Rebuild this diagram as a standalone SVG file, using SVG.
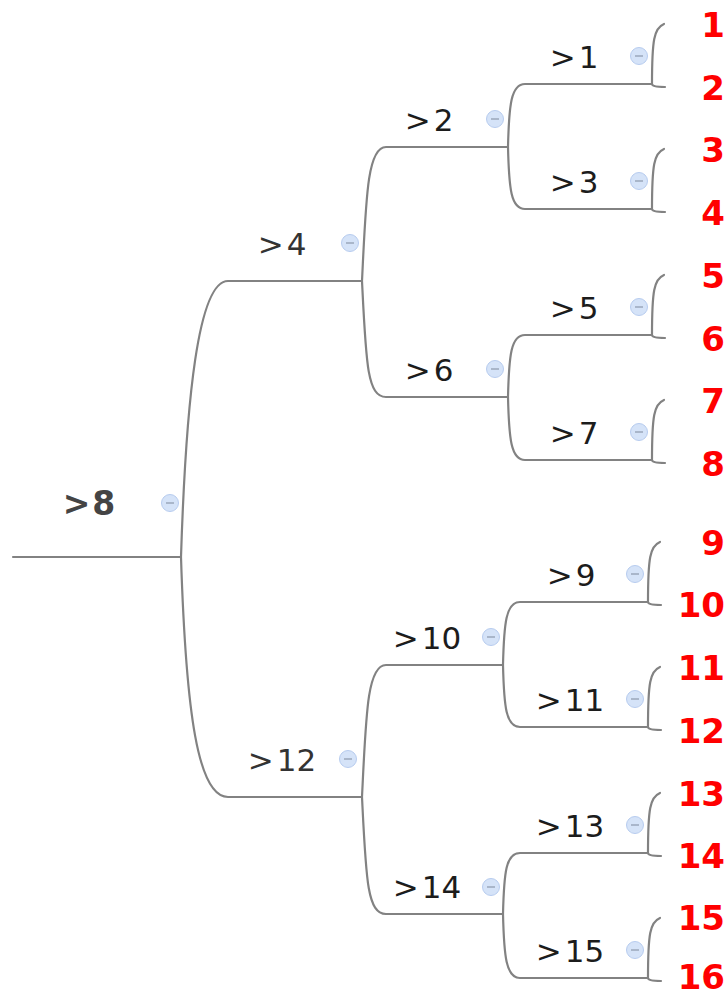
<svg xmlns="http://www.w3.org/2000/svg" width="728" height="994" viewBox="0 0 728 994">
  <style>
    .edge { fill: none; stroke: #828282; stroke-width: 2.2; stroke-linecap: round; }
    .lbl { font-family: "DejaVu Sans", Verdana, sans-serif; font-size: 31px; fill: #1c1c1c; text-anchor: middle; }
    .l1 { fill: #333333; }
    .root { font-family: "DejaVu Sans", Verdana, sans-serif; font-size: 33px; font-weight: bold; fill: #444444; text-anchor: middle; }
    .leaf { font-family: "DejaVu Sans", Verdana, sans-serif; font-size: 34px; font-weight: bold; fill: #ff0000; text-anchor: end; }
    .btn circle { fill: #d5e3f8; stroke: #b7ccef; stroke-width: 1; }
    .btn line { stroke: #9eabbf; stroke-width: 1.6; }
  </style>
  <defs>
    <g id="minus" class="btn">
      <circle cx="0" cy="0" r="8.5"/>
      <line x1="-4" y1="0" x2="4" y2="0"/>
    </g>
  </defs>
  <rect width="728" height="994" fill="#ffffff"/>

  <!-- connectors -->
  <g id="connectors">
    <!-- root -->
    <path class="edge" d="M13,557 H181"/>
    <path class="edge" d="M181,557 C186,400 198,281 228,281 H362"/>
    <path class="edge" d="M181,557 C186,714 198,797 228,797 H362"/>
    <!-- >4 -->
    <path class="edge" d="M362,281 C366,200 367,147 386,147 H508"/>
    <path class="edge" d="M362,281 C366,362 367,397 386,397 H508"/>
    <!-- >12 -->
    <path class="edge" d="M362,797 C366,716 367,665 386,665 H503"/>
    <path class="edge" d="M362,797 C366,878 367,914 386,914 H503"/>
    <!-- >2 -->
    <path class="edge" d="M508,147 C509,105 511,84 525,84 H652"/>
    <path class="edge" d="M508,147 C509,189 511,209 525,209 H652"/>
    <!-- >6 -->
    <path class="edge" d="M508,397 C509,355 511,335 525,335 H652"/>
    <path class="edge" d="M508,397 C509,439 511,460 525,460 H652"/>
    <!-- >10 -->
    <path class="edge" d="M503,665 C504,623 506,602 520,602 H648"/>
    <path class="edge" d="M503,665 C504,707 506,727 520,727 H648"/>
    <!-- >14 -->
    <path class="edge" d="M503,914 C504,872 506,853 520,853 H648"/>
    <path class="edge" d="M503,914 C504,956 506,978 520,978 H648"/>
    <!-- leaf brackets -->
    <path class="edge" d="M652,84 C652,40 654,28 664,24 M652,84 C652,86 656,87 665,87"/>
    <path class="edge" d="M652,209 C652,165 654,153 664,149 M652,209 C652,211 656,212 665,212"/>
    <path class="edge" d="M652,335 C652,291 654,279 664,275 M652,335 C652,337 656,338 665,338"/>
    <path class="edge" d="M652,460 C652,416 654,404 664,400 M652,460 C652,462 656,463 665,463"/>
    <path class="edge" d="M648,602 C648,558 650,546 660,542 M648,602 C648,604 652,605 661,605"/>
    <path class="edge" d="M648,727 C648,683 650,671 660,667 M648,727 C648,729 652,730 661,730"/>
    <path class="edge" d="M648,853 C648,809 650,797 660,793 M648,853 C648,855 652,856 661,856"/>
    <path class="edge" d="M648,978 C648,934 650,922 660,918 M648,978 C648,980 652,981 661,981"/>
  </g>

  <!-- nodes -->
  <g id="n8"><text class="root" x="89" y="515">&gt;<tspan dx="2">8</tspan></text><use href="#minus" x="170" y="503"/></g>
  <g id="n4"><text class="lbl l1" x="282" y="255">&gt;<tspan dx="3">4</tspan></text><use href="#minus" x="350" y="243"/></g>
  <g id="n12"><text class="lbl l1" x="282" y="771">&gt;<tspan dx="3">12</tspan></text><use href="#minus" x="348" y="759"/></g>
  <g id="n2"><text class="lbl" x="429" y="131">&gt;<tspan dx="3">2</tspan></text><use href="#minus" x="495" y="119"/></g>
  <g id="n6"><text class="lbl" x="429" y="381">&gt;<tspan dx="3">6</tspan></text><use href="#minus" x="495" y="369"/></g>
  <g id="n10"><text class="lbl" x="427" y="649">&gt;<tspan dx="3">10</tspan></text><use href="#minus" x="491" y="637"/></g>
  <g id="n14"><text class="lbl" x="427" y="898">&gt;<tspan dx="3">14</tspan></text><use href="#minus" x="491" y="887"/></g>
  <g id="n1"><text class="lbl" x="574" y="68">&gt;<tspan dx="3">1</tspan></text><use href="#minus" x="639" y="56"/></g>
  <g id="n3"><text class="lbl" x="574" y="193">&gt;<tspan dx="3">3</tspan></text><use href="#minus" x="639" y="181"/></g>
  <g id="n5"><text class="lbl" x="574" y="319">&gt;<tspan dx="3">5</tspan></text><use href="#minus" x="639" y="307"/></g>
  <g id="n7"><text class="lbl" x="574" y="444">&gt;<tspan dx="3">7</tspan></text><use href="#minus" x="639" y="432"/></g>
  <g id="n9"><text class="lbl" x="571" y="586">&gt;<tspan dx="3">9</tspan></text><use href="#minus" x="635" y="574"/></g>
  <g id="n11"><text class="lbl" x="570" y="711">&gt;<tspan dx="3">11</tspan></text><use href="#minus" x="635" y="699"/></g>
  <g id="n13"><text class="lbl" x="570" y="837">&gt;<tspan dx="3">13</tspan></text><use href="#minus" x="635" y="825"/></g>
  <g id="n15"><text class="lbl" x="570" y="962">&gt;<tspan dx="3">15</tspan></text><use href="#minus" x="635" y="950"/></g>

  <!-- leaves -->
  <g id="leaves">
    <text class="leaf" x="725" y="37">1</text>
    <text class="leaf" x="725" y="100">2</text>
    <text class="leaf" x="725" y="162">3</text>
    <text class="leaf" x="725" y="225">4</text>
    <text class="leaf" x="725" y="288">5</text>
    <text class="leaf" x="725" y="351">6</text>
    <text class="leaf" x="725" y="413">7</text>
    <text class="leaf" x="725" y="476">8</text>
    <text class="leaf" x="725" y="555">9</text>
    <text class="leaf" x="725" y="617">10</text>
    <text class="leaf" x="725" y="680">11</text>
    <text class="leaf" x="725" y="743">12</text>
    <text class="leaf" x="725" y="806">13</text>
    <text class="leaf" x="725" y="868">14</text>
    <text class="leaf" x="725" y="930">15</text>
    <text class="leaf" x="725" y="989">16</text>
  </g>
</svg>
